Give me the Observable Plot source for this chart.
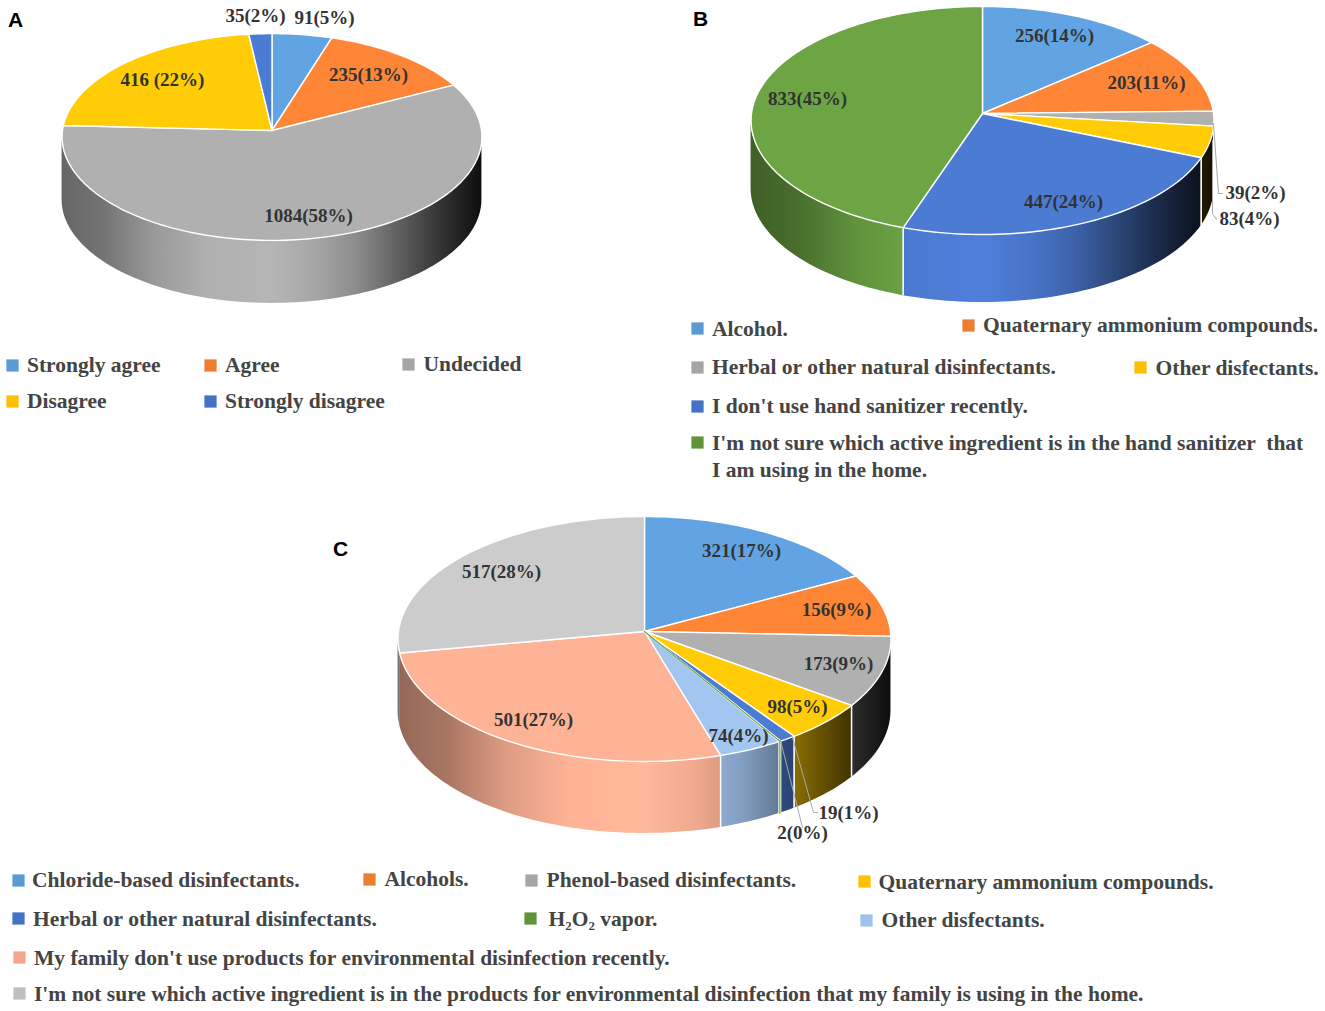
<!DOCTYPE html>
<html>
<head>
<meta charset="utf-8">
<script src="https://cdn.jsdelivr.net/npm/d3@7"></script>
<script src="https://cdn.jsdelivr.net/npm/@observablehq/plot@0.6"></script>
<style>
  html, body { margin: 0; padding: 0; background: #fff; }
  svg { display: block; }
</style>
</head>
<body>
<div id="chart"></div>
<script>
// ---------- data ----------
const categoriesA = ["Strongly agree", "Agree", "Undecided", "Disagree", "Strongly disagree"];
const valuesA = [91, 235, 1084, 416, 35];
const labelsA = ["91(5%)", "235(13%)", "1084(58%)", "416 (22%)", "35(2%)"];

const categoriesB = ["Alcohol.", "Quaternary ammonium compounds.", "Herbal or other natural disinfectants.", "Other disfectants.", "I don't use hand sanitizer recently.", "I'm not sure which active ingredient is in the hand sanitizer \u00a0that\nI am using in the home."];
const valuesB = [256, 203, 39, 83, 447, 833];
const labelsB = ["256(14%)", "203(11%)", "39(2%)", "83(4%)", "447(24%)", "833(45%)"];

const categoriesC = ["Chloride-based disinfectants.", "Alcohols.", "Phenol-based disinfectants.", "Quaternary ammonium compounds.", "Herbal or other natural disinfectants.", "H\u2082O\u2082 vapor.", "Other disfectants.", "My family don't use products for environmental disinfection recently.", "I'm not sure which active ingredient is in the products for environmental disinfection that my family is using in the home."];
const valuesC = [321, 156, 173, 98, 19, 2, 74, 501, 517];
const labelsC = ["321(17%)", "156(9%)", "173(9%)", "98(5%)", "19(1%)", "2(0%)", "74(4%)", "501(27%)", "517(28%)"];

// ---------- styles and layout ----------
const faceA = ["#62a3e3", "#ff8636", "#b0b0b0", "#ffcc05", "#4c7bd3"];
const faceB = ["#62a3e3", "#ff8636", "#b0b0b0", "#ffcc05", "#4c7bd3", "#6da544"];
const faceC = ["#62a3e3", "#ff8636", "#b0b0b0", "#ffcc05", "#4c7bd3", "#6da544", "#a3c6f0", "#ffb396", "#cccccc"];
const keyA = ["#5b9bd5", "#ed7d31", "#a5a5a5", "#ffc000", "#4472c4"];
const keyB = ["#5b9bd5", "#ed7d31", "#a5a5a5", "#ffc000", "#4472c4", "#5f9538"];
const keyC = ["#5b9bd5", "#ed7d31", "#a5a5a5", "#ffc000", "#4472c4", "#5f9538", "#9dc3e6", "#f4a78f", "#bfbfbf"];

const spotA = [[324, 18], [368, 75], [308, 216], [162, 80], [255, 16]];
const spotB = [[1054, 36], [1146, 83], [1255, 193], [1249, 219], [1063, 202], [807, 99]];
const spotC = [[741, 551], [836, 610], [838, 664], [797, 707], [848, 813], [802, 833], [738, 736], [533, 720], [501, 572]];

// swatch x, swatch y, text x, text y
const keySpotA = [[12, 365, 26.5, 365], [210, 365, 224.5, 365], [408, 364, 423, 364], [12, 401, 26.5, 401], [210, 401, 224.5, 401]];
const keySpotB = [[697, 328, 711.5, 329], [968, 325, 982.5, 325], [697, 367, 711.5, 367], [1140, 367, 1155, 368], [697, 406, 711.5, 406], [697, 442, 711.5, 443]];
const keySpotC = [[18, 880, 31.5, 880], [369, 879, 384, 879], [531, 880, 546, 880], [864, 881, 878, 882], [18, 918, 32.5, 919], [530, 918, 548, 919], [866, 920, 881, 920], [19, 957, 33.5, 958], [19, 993, 33.5, 994]];

const leaderB = [[[1213, 123], [1218, 193], [1222, 193]], [[1212, 140], [1212, 213], [1216, 219]]];
const leaderC = [[[792, 737], [813, 812], [817, 812]], [[780, 740], [802, 827]]];

const pies = [
  {id: "A", values: valuesA, face: faceA, ax: 271.5, ay: 130, fx: 209.5, fy: 103, k: 0.0628, depth: 63},
  {id: "B", values: valuesB, face: faceB, ax: 982, ay: 113, fx: 231, fy: 113.6, k: 0.0614, depth: 68},
  {id: "C", values: valuesC, face: faceC, ax: 644, ay: 631, fx: 246, fy: 122, k: 0.0612, depth: 72}
];
const shadeStops = [[0, .58], [.1, .66], [.22, .87], [.35, 1], [.5, 1.03], [.6, .95], [.7, .8], [.8, .55], [.9, .3], [1, .08]];

// ---------- geometry from the values ----------
const rad = Math.PI / 180;
function rim(p, t) {
  const s = Math.sin(t * rad), c = Math.cos(t * rad), w = 1 + p.k * c;
  return {x: p.ax + p.fx * s / w, y: p.ay - p.fy * c / w};
}
function arcPoints(p, a0, a1) {
  const n = Math.max(2, Math.ceil((a1 - a0) / 1.5)), out = [];
  for (let i = 0; i <= n; i++) out.push(rim(p, a0 + (a1 - a0) * i / n));
  return out;
}
const topRows = [], sideRows = [], dividerRows = [], gradients = [], sliverRows = [];
for (const p of pies) {
  const total = d3.sum(p.values);
  const tL = Math.acos(-p.k) / rad, tR = 360 - tL;
  const left = rim(p, tR).x, right = rim(p, tL).x;
  let cum = 0;
  p.values.forEach((v, i) => {
    const a0 = cum / total * 360;
    cum += v;
    const a1 = cum / total * 360;
    const key = `${p.id}${i}`;
    const apex = {x: p.ax, y: p.ay};
    for (const q of [apex, ...arcPoints(p, a0, a1), apex]) {
      topRows.push({...q, key, fill: p.face[i]});
    }
    const s0 = Math.max(a0, tL), s1 = Math.min(a1, tR);
    if (s0 < s1) {
      gradients.push({id: `side${key}`, left, right, color: p.face[i]});
      for (const q of arcPoints(p, s0, s1)) {
        sideRows.push({x: q.x, y1: q.y, y2: q.y + p.depth, key, fill: `url(#side${key})`});
      }
    }
    if (a1 > tL && a1 < 250) {
      const q = rim(p, a1);
      dividerRows.push({x: q.x, y1: q.y, y2: q.y + p.depth});
    }
    if (a1 - a0 < 1) {  // a slice too thin to show under the white outlines
      const q = rim(p, (a0 + a1) / 2);
      for (const r of [apex, q, {x: q.x, y: q.y + p.depth}]) sliverRows.push({...r, key, stroke: p.face[i]});
    }
  });
}
const zipLabels = (labels, spots) => labels.map((label, i) => ({label, x: spots[i][0], y: spots[i][1]}));
const sliceLabels = [...zipLabels(labelsA, spotA), ...zipLabels(labelsB, spotB), ...zipLabels(labelsC, spotC)];
const zipKeys = (cats, cols, spots) => cats.map((label, i) => ({label, fill: cols[i], sx: spots[i][0], sy: spots[i][1], tx: spots[i][2], ty: spots[i][3]}));
const keyRows = [...zipKeys(categoriesA, keyA, keySpotA), ...zipKeys(categoriesB, keyB, keySpotB), ...zipKeys(categoriesC, keyC, keySpotC)];
const leaderRows = [...leaderB, ...leaderC].flatMap((pts, i) => pts.map(([x, y]) => ({x, y, key: i})));
const panelRows = [{label: "A", x: 15, y: 20}, {label: "B", x: 700, y: 19}, {label: "C", x: 340, y: 549}];

const defsMark = () => {
  const defs = d3.create("svg:defs");
  for (const g of gradients) {
    const lg = defs.append("linearGradient").attr("id", g.id)
      .attr("gradientUnits", "userSpaceOnUse")
      .attr("x1", g.left).attr("x2", g.right).attr("y1", 0).attr("y2", 0);
    const base = d3.rgb(g.color);
    for (const [u, m] of shadeStops) {
      lg.append("stop").attr("offset", u)
        .attr("stop-color", d3.rgb(Math.min(255, base.r * m), Math.min(255, base.g * m), Math.min(255, base.b * m)).formatHex());
    }
  }
  return defs.node();
};

const serif = "'Liberation Serif', serif";
const chart = Plot.plot({
  width: 1325,
  height: 1011,
  margin: 0,
  style: {background: "#fff"},
  x: {domain: [0, 1325], range: [0, 1325], axis: null},
  y: {domain: [0, 1011], range: [0, 1011], axis: null},
  color: {type: "identity"},
  marks: [
    defsMark,
    Plot.area(sideRows, {x1: "x", x2: "x", y1: "y1", y2: "y2", z: "key", fill: "fill"}),
    Plot.ruleX(dividerRows, {x: "x", y1: "y1", y2: "y2", stroke: "#fff", strokeWidth: 1.5}),
    Plot.line(topRows, {x: "x", y: "y", z: "key", fill: "fill", stroke: "#fff", strokeWidth: 1.4}),
    Plot.line(sliverRows, {x: "x", y: "y", z: "key", stroke: "stroke", strokeWidth: 1.2}),
    Plot.line(leaderRows, {x: "x", y: "y", z: "key", stroke: "#aaaaaa", strokeWidth: 1}),
    Plot.text(sliceLabels, {x: "x", y: "y", text: "label", dy: -1, fontFamily: serif, fontWeight: "bold", fontSize: 19, fill: "#333333"}),
    Plot.dot(keyRows, {x: "sx", y: "sy", symbol: "square", r: 6.9, fill: "fill"}),
    Plot.text(keyRows, {x: "tx", y: "ty", text: "label", textAnchor: "start", fontFamily: serif, fontWeight: "bold", fontSize: 21.5, lineHeight: 1.26, lineAnchor: "top", dy: -13, fill: "#444444"}),
    Plot.text(panelRows, {x: "x", y: "y", text: "label", fontFamily: "'Liberation Sans', sans-serif", fontWeight: "bold", fontSize: 21, fill: "#000"})
  ]
});
document.getElementById("chart").appendChild(chart);
</script>
</body>
</html>
